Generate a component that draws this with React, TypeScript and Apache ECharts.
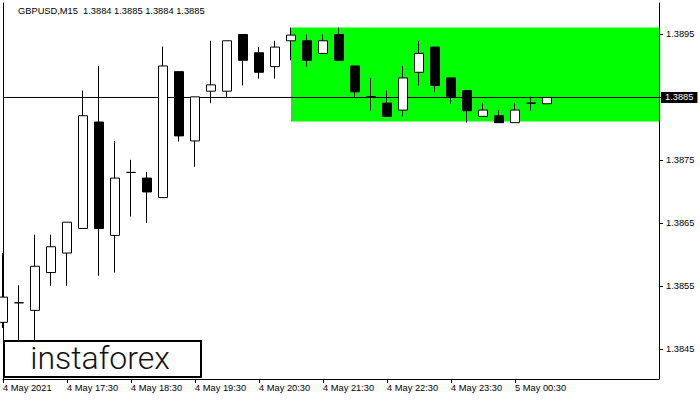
import React, { useEffect, useRef } from "react";
import * as echarts from "echarts";

const categories = [
  "16:30", "16:45", "17:00", "17:15", "17:30", "17:45", "18:00", "18:15",
  "18:30", "18:45", "19:00", "19:15", "19:30", "19:45", "20:00", "20:15",
  "20:30", "20:45", "21:00", "21:15", "21:30", "21:45", "22:00", "22:15",
  "22:30", "22:45", "23:00", "23:15", "23:30", "23:45", "00:00", "00:15",
  "00:30", "00:45", "01:00", "01:15", "01:30", "01:45", "02:00", "02:15",
  "02:30", "02:45",
];

const tickLabels = [
  "4 May 2021", "4 May 17:30", "4 May 18:30", "4 May 19:30", "4 May 20:30",
  "4 May 21:30", "4 May 22:30", "4 May 23:30", "5 May 00:30",
];

const opens = [
  1.38493, 1.38524, 1.38512, 1.38572, 1.38603, 1.38642, 1.38811, 1.38631,
  1.38731, 1.38722, 1.38691, 1.38891, 1.38781, 1.3886, 1.3886, 1.3895,
  1.38921, 1.38899, 1.3894, 1.3894, 1.3892, 1.3895, 1.389, 1.38851,
  1.38841, 1.3883, 1.3889, 1.3893, 1.38881, 1.38861, 1.3882, 1.38821,
  1.3881, 1.38841, 1.3884,
];
const closes = [
  1.38533, 1.38524, 1.38582, 1.38613, 1.38652, 1.38821, 1.38642, 1.38722,
  1.38731, 1.387, 1.389, 1.38789, 1.38851, 1.3887, 1.3894, 1.38909,
  1.3889, 1.3893, 1.38949, 1.38909, 1.3894, 1.38909, 1.38859, 1.38851,
  1.3882, 1.38881, 1.3892, 1.38869, 1.38851, 1.38829, 1.3883, 1.3881,
  1.3883, 1.38841, 1.3885,
];
const lows = [
  1.38484, 1.38449, 1.38449, 1.38551, 1.38551, 1.38642, 1.38567, 1.38572,
  1.38661, 1.38651, 1.38691, 1.3878, 1.3874, 1.38841, 1.38851, 1.38869,
  1.3888, 1.3888, 1.38909, 1.38899, 1.3892, 1.38909, 1.38851, 1.38829,
  1.3882, 1.3882, 1.38869, 1.38859, 1.3884, 1.3881, 1.3882, 1.3881,
  1.3881, 1.38829, 1.3884,
];
const highs = [
  1.38603, 1.38552, 1.38632, 1.38632, 1.38652, 1.38861, 1.389, 1.38781,
  1.38751, 1.38732, 1.38931, 1.38891, 1.38851, 1.3894, 1.3894, 1.3895,
  1.3893, 1.3894, 1.38961, 1.3895, 1.3895, 1.38961, 1.389, 1.38881,
  1.38861, 1.389, 1.3894, 1.3893, 1.38881, 1.38861, 1.38841, 1.3883,
  1.38841, 1.38851, 1.3885,
];

const yTickValues = [1.3845, 1.3855, 1.3865, 1.3875, 1.3885, 1.3895];
const yLabelValues = [1.3845, 1.3855, 1.3865, 1.3875, 1.3895];
const currentPrice = 1.3885;
const zoneTop = 1.38961;
const zoneBottom = 1.38812;
const zoneStartIndex = 18;
const titleText = "GBPUSD,M15  1.3884 1.3885 1.3884 1.3885";
const logoText = "instaforex";

const FONT = "'Liberation Sans', Arial, sans-serif";

export default function App() {
  const ref = useRef<HTMLDivElement>(null);
  useEffect(() => {
    if (!ref.current) return;
    const chart = echarts.init(ref.current, null, { renderer: "svg" });
    const candleData = opens.map((o, i) => [o, closes[i], lows[i], highs[i]]);
    const priceLine = categories.map(() => currentPrice);
    chart.setOption({
      animation: false,
      backgroundColor: "#ffffff",
      grid: { left: 3, right: 41, top: 3, bottom: 21, containLabel: false },
      xAxis: {
        type: "category",
        data: categories,
        boundaryGap: false,
        axisLine: { show: true, lineStyle: { color: "#000", width: 1 } },
        axisTick: {
          show: true,
          length: 4,
          lineStyle: { color: "#000" },
          interval: (i: number) => i % 4 === 0 && i <= 32,
        },
        axisLabel: {
          interval: (i: number) => i % 4 === 0 && i <= 32,
          formatter: (_v: string, i: number) => tickLabels[i / 4] ?? "",
          align: "left",
          margin: 4,
          color: "#000",
          fontSize: 9.3,
          fontFamily: FONT,
        },
        splitLine: { show: false },
      },
      yAxis: [
        {
          type: "value",
          position: "right",
          min: 1.38403,
          max: 1.39,
          axisLine: { show: true, lineStyle: { color: "#000", width: 1 } },
          axisTick: {
            show: true,
            length: 4,
            lineStyle: { color: "#000" },
            customValues: yTickValues,
          },
          axisLabel: {
            customValues: yLabelValues,
            formatter: (v: number) => v.toFixed(4),
            color: "#000",
            fontSize: 9.3,
            fontFamily: FONT,
            margin: 7,
          },
          splitLine: { show: false },
        },
        {
          type: "value",
          position: "left",
          min: 0,
          max: 1,
          axisLine: { show: true, lineStyle: { color: "#000", width: 1 } },
          axisTick: { show: false },
          axisLabel: { show: false },
          splitLine: { show: false },
        },
      ],
      series: [
        {
          type: "line",
          data: [],
          z: 1,
          silent: true,
          markArea: {
            silent: true,
            itemStyle: { color: "#00ff00", opacity: 1 },
            label: { show: false },
            data: [
              [
                { coord: [categories[zoneStartIndex], zoneTop] },
                { coord: [categories[categories.length - 1], zoneBottom] },
              ],
            ],
          },
        },
        {
          type: "line",
          data: priceLine,
          z: 2,
          silent: true,
          symbol: "none",
          showSymbol: false,
          lineStyle: { color: "#000", width: 1 },
          endLabel: {
            show: true,
            distance: 2,
            formatter: () => currentPrice.toFixed(4),
            color: "#fff",
            backgroundColor: "#000",
            padding: [1, 4, 1, 4],
            fontSize: 9.3,
            fontFamily: FONT,
          },
        },
        {
          type: "candlestick",
          z: 3,
          data: candleData,
          barWidth: 10,
          itemStyle: {
            color: "#ffffff",
            color0: "#000000",
            borderColor: "#000000",
            borderColor0: "#000000",
            borderColorDoji: "#000000",
            borderWidth: 1,
          },
        },
      ],
      graphic: [
        {
          type: "text",
          left: 18,
          top: 6,
          z: 10,
          style: {
            text: titleText,
            fill: "#000",
            fontSize: 9.3,
            fontFamily: FONT,
          },
        },
        {
          type: "rect",
          z: 20,
          shape: { x: 4, y: 341, width: 197, height: 36 },
          style: { fill: "#fff", stroke: "#000", lineWidth: 2 },
        },
        {
          type: "text",
          z: 21,
          x: 100,
          y: 358,
          style: {
            text: logoText,
            fill: "#111",
            fontSize: 32,
            fontWeight: 300,
            fontFamily: "Roboto, 'DejaVu Sans', sans-serif",
            align: "center",
            verticalAlign: "middle",
          },
        },
      ],
    });
    return () => chart.dispose();
  }, []);
  return (
    <div
      ref={ref}
      style={{ position: "fixed", left: 0, top: 0, width: 700, height: 400 }}
    />
  );
}
